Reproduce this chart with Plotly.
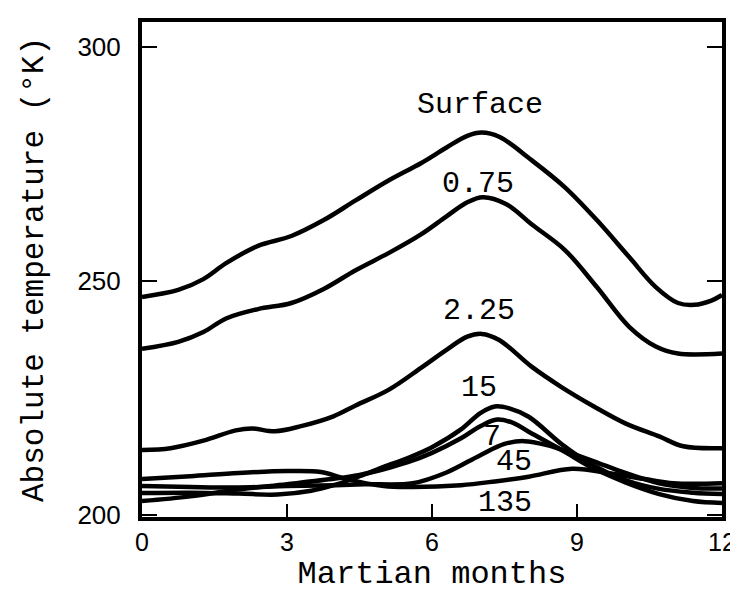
import plotly.graph_objects as go

# ---- data (Martian months, absolute temperature in K) ----
surface_m = [0, 0.75, 1.27, 1.74, 2.4, 3.09, 3.76, 4.42, 5.11, 5.78, 6.3, 6.73, 7.03, 7.39, 8.06, 8.75, 9.41, 10.08, 10.63, 11.09, 11.43, 11.78, 12]
surface_t = [246.6, 248.1, 250.4, 253.8, 257.5, 259.6, 263.0, 267.2, 271.5, 275.2, 278.5, 281.0, 281.7, 280.8, 275.8, 270.0, 263.0, 255.1, 248.7, 245.3, 244.9, 245.8, 247.0]

d075_m = [0, 0.75, 1.27, 1.74, 2.4, 3.09, 3.76, 4.42, 5.11, 5.78, 6.3, 6.73, 7.05, 7.54, 8.06, 8.75, 9.41, 10.08, 10.63, 11.09, 12]
d075_t = [235.5, 237.0, 239.1, 242.0, 244.0, 245.3, 248.3, 252.3, 256.0, 260.0, 263.8, 266.8, 267.9, 266.4, 262.1, 256.6, 248.7, 240.2, 236.0, 234.5, 234.5]

d225_m = [0, 0.59, 1.27, 1.94, 2.28, 2.75, 3.29, 3.96, 4.42, 5.11, 5.78, 6.3, 6.73, 7.03, 7.39, 8.06, 8.67, 9.35, 10.0, 10.7, 11.2, 12]
d225_t = [213.9, 214.3, 215.9, 218.1, 218.5, 217.9, 219.0, 221.1, 223.4, 226.8, 231.5, 235.3, 238.1, 238.7, 237.4, 231.7, 227.4, 223.2, 219.6, 216.8, 214.7, 214.3]

d15_m = [0, 1, 2, 2.8, 3.5, 4, 4.5, 5, 5.5, 6, 6.6, 7, 7.3, 7.6, 8, 8.7, 9.3, 10, 10.7, 11.4, 12]
d15_t = [204.7, 204.8, 204.6, 204.4, 205.2, 206.5, 208.3, 210.3, 212.2, 214.5, 218.3, 221.8, 223.2, 222.8, 221.0, 215.0, 210.8, 207.5, 205.6, 204.8, 204.5]

d7_m = [0, 1, 2, 3, 4, 4.5, 5, 5.5, 6, 6.6, 7, 7.35, 7.7, 8, 8.7, 9.3, 10, 10.7, 11.4, 12]
d7_t = [203.0, 204.0, 205.5, 206.6, 207.8, 208.6, 209.8, 211.3, 213.3, 216.4, 219.0, 220.4, 219.6, 217.8, 213.8, 210.2, 207.0, 204.5, 203.0, 202.6]

d45_m = [0, 1, 2, 3, 4, 4.6, 5.6, 6.3, 7, 7.5, 7.9, 8.4, 8.7, 9.35, 10, 10.7, 11.4, 12]
d45_t = [206.2, 206.0, 205.9, 206.2, 206.4, 206.6, 206.8, 209.1, 212.8, 215.2, 215.8, 214.9, 213.9, 211.5, 209.0, 206.8, 205.8, 205.7]

d135_m = [0, 1, 2, 3, 3.7, 4.2, 5, 5.6, 6.6, 7.3, 8, 8.9, 9.7, 10.4, 11, 12]
d135_t = [207.7, 208.3, 209.0, 209.4, 209.2, 207.8, 206.2, 206.0, 206.4, 207.2, 208.2, 209.9, 208.9, 207.7, 206.8, 206.8]

series = [
    ("Surface", surface_m, surface_t),
    ("0.75", d075_m, d075_t),
    ("2.25", d225_m, d225_t),
    ("15", d15_m, d15_t),
    ("7", d7_m, d7_t),
    ("45", d45_m, d45_t),
    ("135", d135_m, d135_t),
]

# curve labels
label_text = ["Surface", "0.75", "2.25", "15", "7", "45", "135"]
label_m = [7.0, 6.95, 6.97, 6.97, 7.25, 7.7, 7.5]
label_t = [287.6, 270.8, 243.6, 227.1, 216.7, 211.4, 202.5]

x_ticks = [0, 3, 6, 9, 12]
y_ticks = [200, 250, 300]

mono = "Liberation Mono, Courier New, monospace"
sans = "Liberation Sans, Arial, sans-serif"

fig = go.Figure()
for name, m, t in series:
    fig.add_trace(go.Scatter(
        x=m, y=t, mode="lines", name=name,
        line=dict(color="black", width=4.5, shape="spline", smoothing=1.0),
        showlegend=False, hoverinfo="skip",
    ))

for txt, m, t in zip(label_text, label_m, label_t):
    fig.add_annotation(x=m, y=t, text=txt, showarrow=False,
                       font=dict(family=mono, size=30, color="black"),
                       xanchor="center", yanchor="middle")

fig.update_layout(
    width=738, height=596,
    margin=dict(l=134, r=10, t=11, b=87),
    paper_bgcolor="white", plot_bgcolor="white",
    font=dict(family=sans, color="black"),
)
fig.update_xaxes(
    range=[0, 12], tickvals=x_ticks, ticktext=[str(v) for v in x_ticks],
    ticks="inside", ticklen=13, tickwidth=2, tickcolor="black",
    showline=True, linewidth=4, linecolor="black", mirror=True,
    showgrid=False, zeroline=False,
    tickfont=dict(family=sans, size=25),
    ticklabeloverflow="allow",
    title=dict(text="Martian months", font=dict(family=mono, size=32), standoff=6),
)
fig.update_yaxes(
    range=[199.6, 305.3], tickvals=y_ticks, ticktext=[str(v) for v in y_ticks],
    ticks="inside", ticklen=15, tickwidth=2, tickcolor="black",
    showline=True, linewidth=4, linecolor="black", mirror="ticks",
    showgrid=False, zeroline=False,
    tickfont=dict(family=sans, size=26),
    ticklabelstandoff=12,
    title=dict(text="Absolute temperature (°K)", font=dict(family=mono, size=31), standoff=26),
)

fig.write_html("out.html")
